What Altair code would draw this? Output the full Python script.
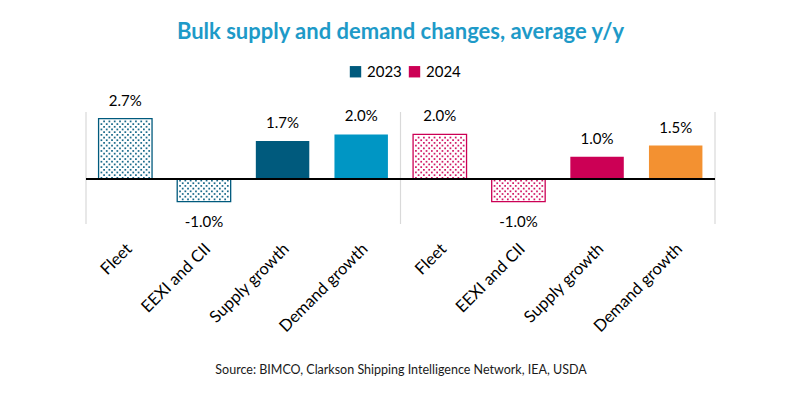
import altair as alt
import pandas as pd

# ---- data ----
years = ["2023", "2024"]
categories = ["Fleet", "EEXI and CII", "Supply growth", "Demand growth"]
values_2023 = [2.7, -1.0, 1.7, 2.0]
values_2024 = [2.0, -1.0, 1.0, 1.5]
patterned = ["Fleet", "EEXI and CII"]          # drawn with dotted fill
title_text = "Bulk supply and demand changes, average y/y"
source_text = "Source: BIMCO, Clarkson Shipping Intelligence Network, IEA, USDA"

# ---- styles ----
YEAR_COL = {"2023": "#005A7D", "2024": "#CC0055"}
DEMAND_COL = {"2023": "#0096C4", "2024": "#F39131"}
FONT = "Lato"
BAR_FRAC = 0.68

rows = []
for y, vals in zip(years, [values_2023, values_2024]):
    for c, v in zip(categories, vals):
        if c in patterned:
            fk = y + "p"
        elif c == "Demand growth":
            fk = y + "d"
        else:
            fk = y
        rows.append({
            "key": f"{y}|{c}", "year": y, "cat": c, "value": v,
            "slot": years.index(y) * len(categories) + categories.index(c),
            "fillkey": fk,
            "stroke": YEAR_COL[y],
            "sw": 1.3 if c in patterned else 0,
            "lbl": f"{v:.1f}%",
        })
df = pd.DataFrame(rows)
keys = list(df["key"])
n_slots = len(keys)

# dotted texture inside the patterned bars (decoration derived from the values)
dots = []
for r in rows:
    if r["cat"] not in patterned:
        continue
    sign = 1 if r["value"] > 0 else -1
    step_y = 0.12
    n_rows = int(abs(r["value"]) / step_y)
    for i in range(n_rows):
        shift = 0.034 if i % 2 else 0.0
        for k in range(10):
            fx = 0.5 - BAR_FRAC / 2 + 0.036 + shift + k * 0.0675
            if fx > 0.5 + BAR_FRAC / 2 - 0.025:
                continue
            dots.append({"xq": r["slot"] + fx,
                         "value": sign * (i + 0.5) * step_y, "col": r["stroke"]})
dots_df = pd.DataFrame(dots)

sep_start = pd.DataFrame({"key": [keys[0], keys[4]]})
sep_end = pd.DataFrame({"key": [keys[-1]]})

xscale = alt.Scale(domain=keys, paddingInner=0, paddingOuter=0)
yscale = alt.Scale(domain=[-2, 3], nice=False, zero=False)

x_enc = alt.X(
    "key:N", scale=xscale, sort=keys,
    axis=alt.Axis(
        labelExpr="split(datum.label, '|')[1]",
        labelAngle=-45, labelAlign="right", labelBaseline="middle",
        labelFont=FONT, labelFontSize=16.5, labelColor="#000000",
        labelPadding=22, labelOffset=4, domain=False, ticks=False, grid=False,
        title=source_text, titleFont=FONT, titleFontSize=12.5,
        titleFontWeight="normal", titleColor="#1a1a1a",
        titleY=145, titleBaseline="middle",
    ),
)
x_plain = alt.X("key:N", scale=xscale, sort=keys, axis=None)
y_enc = alt.Y("value:Q", scale=yscale, axis=None)

color_domain = ["2023", "2024", "2023p", "2024p", "2023d", "2024d"]
color_range = [YEAR_COL["2023"], YEAR_COL["2024"], "#ffffff", "#ffffff",
               DEMAND_COL["2023"], DEMAND_COL["2024"]]

sep1 = alt.Chart(sep_start).mark_rule(color="#d9d9d9", strokeWidth=1.2).encode(
    x=alt.X("key:N", scale=xscale, sort=keys, bandPosition=0, axis=None)
)
sep2 = alt.Chart(sep_end).mark_rule(color="#d9d9d9", strokeWidth=1.2).encode(
    x=alt.X("key:N", scale=xscale, sort=keys, bandPosition=1, axis=None)
)

bars = alt.Chart(df).mark_bar(width={"band": BAR_FRAC}).encode(
    x=x_enc,
    y=y_enc,
    y2=alt.datum(0),
    fill=alt.Fill(
        "fillkey:N",
        scale=alt.Scale(domain=color_domain, range=color_range),
        legend=alt.Legend(
            values=["2023", "2024"], title=None, orient="none",
            direction="horizontal", legendX=262, legendY=-48,
            symbolType="square", symbolSize=130, symbolStrokeWidth=0,
            labelFont=FONT, labelFontSize=15, labelColor="#000000",
            columnPadding=5,
        ),
    ),
    stroke=alt.Stroke("stroke:N", scale=None),
    strokeWidth=alt.StrokeWidth("sw:Q", scale=None),
)

dot_layer = alt.Chart(dots_df).mark_square(size=3, opacity=0.9).encode(
    x=alt.X("xq:Q", scale=alt.Scale(domain=[0, n_slots], nice=False, zero=False),
            axis=None),
    y=y_enc,
    color=alt.Color("col:N", scale=None),
)

zero = alt.Chart(df).mark_rule(color="#000000", strokeWidth=1.3).encode(
    y=alt.datum(0)
)

lab_pos = alt.Chart(df).transform_filter("datum.value > 0").mark_text(
    font=FONT, fontSize=15, color="#000000", dy=-18, baseline="middle"
).encode(x=x_plain, y=y_enc, text="lbl:N")

lab_neg = alt.Chart(df).transform_filter("datum.value < 0").mark_text(
    font=FONT, fontSize=15, color="#000000", dy=20, baseline="middle"
).encode(x=x_plain, y=y_enc, text="lbl:N")

chart = alt.layer(
    sep1, sep2, bars, dot_layer, lab_pos, lab_neg, zero
).resolve_scale(x="independent").properties(
    width=629,
    height=112,
    title=alt.TitleParams(
        title_text, font=FONT, fontSize=22, fontWeight="bold",
        color="#1E9AC8", anchor="middle", offset=20,
    ),
    autosize=alt.AutoSizeParams(type="none"),
    padding={"left": 86, "top": 112, "right": 82, "bottom": 176},
).configure_view(stroke=None)

chart.save("out.html", embed_options={"renderer": "svg", "actions": False})
